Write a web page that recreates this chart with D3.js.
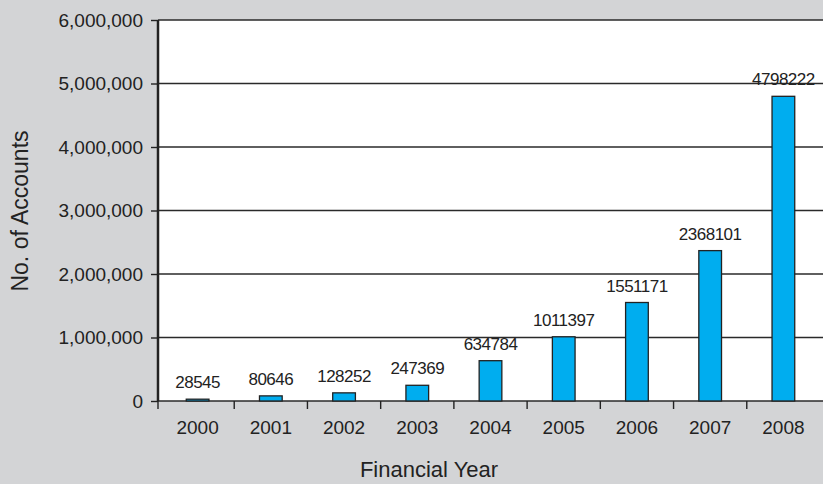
<!DOCTYPE html>
<html>
<head>
<meta charset="utf-8">
<script src="https://cdn.jsdelivr.net/npm/d3@7"></script>
<style>
  body { margin: 0; background: #d3d4d6; }
  svg { display: block; }
  .tick text { font-family: "Liberation Sans", Arial, sans-serif; fill: #222; }
  .value { font-family: "Liberation Sans Narrow", "Liberation Sans", sans-serif; fill: #222; letter-spacing: -0.5px; }
  .title { font-family: "Liberation Sans", Arial, sans-serif; fill: #222; }
</style>
</head>
<body>
<svg id="chart" width="823" height="484"></svg>
<script>
// data
const years = ["2000", "2001", "2002", "2003", "2004", "2005", "2006", "2007", "2008"];
const accounts = [28545, 80646, 128252, 247369, 634784, 1011397, 1551171, 2368101, 4798222];
const yTicks = [0, 1000000, 2000000, 3000000, 4000000, 5000000, 6000000];

const width = 823, height = 484;
const margin = {top: 20, right: 0, bottom: 83, left: 158};

const svg = d3.select("#chart");

const x = d3.scaleBand()
    .domain(years)
    .range([margin.left + 3, width - 3])
    .paddingInner(0.69)
    .paddingOuter(0.345);

const y = d3.scaleLinear()
    .domain([0, 6000000])
    .range([height - margin.bottom, margin.top]);

// plot background
svg.append("rect")
    .attr("x", margin.left).attr("y", y(6000000))
    .attr("width", width - margin.left - margin.right)
    .attr("height", y(0) - y(6000000))
    .attr("fill", "#fff");

// gridlines
svg.append("g").selectAll("line")
    .data(yTicks).enter()
    .append("line")
    .attr("x1", margin.left).attr("x2", width)
    .attr("y1", d => y(d)).attr("y2", d => y(d))
    .attr("stroke", "#2a2a2a").attr("stroke-width", 1.4);

// bars
svg.append("g").selectAll("rect")
    .data(accounts).enter()
    .append("rect")
    .attr("x", (d, i) => x(years[i]))
    .attr("y", d => y(d))
    .attr("width", x.bandwidth())
    .attr("height", d => y(0) - y(d))
    .attr("fill", "#00adef")
    .attr("stroke", "#222")
    .attr("stroke-width", 1.3);

// value labels
svg.append("g").selectAll("text")
    .data(accounts).enter()
    .append("text").attr("class", "value")
    .attr("x", (d, i) => x(years[i]) + x.bandwidth() / 2)
    .attr("y", d => y(d) - 11)
    .attr("text-anchor", "middle")
    .attr("font-size", 17)
    .text(d => d);

// y axis
const yAxis = svg.append("g")
    .attr("transform", `translate(${margin.left},0)`)
    .call(d3.axisLeft(y).tickValues(yTicks).tickSize(7).tickPadding(8).tickFormat(d3.format(",")));
yAxis.select(".domain").attr("stroke", "#222").attr("stroke-width", 2.5)
    .attr("d", `M0,${y(6000000)}V${y(0)}`);
yAxis.selectAll(".tick line").attr("stroke", "#222").attr("stroke-width", 1.4);
yAxis.selectAll(".tick text").attr("font-size", 19);

// x axis: labels at centres, ticks at category boundaries
const xAxis = svg.append("g")
    .attr("transform", `translate(0,${y(0)})`)
    .call(d3.axisBottom(x).tickSize(0).tickPadding(20));
xAxis.select(".domain").remove();
xAxis.selectAll(".tick text").attr("font-size", 19);

const step = x.step();
svg.append("g").selectAll("line")
    .data(years.slice(1)).enter()
    .append("line")
    .attr("x1", d => x(d) + x.bandwidth() / 2 - step / 2)
    .attr("x2", d => x(d) + x.bandwidth() / 2 - step / 2)
    .attr("y1", y(0)).attr("y2", y(0) + 8)
    .attr("stroke", "#222").attr("stroke-width", 1.4);
svg.append("line")
    .attr("x1", margin.left).attr("x2", margin.left)
    .attr("y1", y(0)).attr("y2", y(0) + 8)
    .attr("stroke", "#222").attr("stroke-width", 1.4);

// axis titles
svg.append("text").attr("class", "title")
    .attr("x", 429)
    .attr("y", 477)
    .attr("text-anchor", "middle")
    .attr("font-size", 22)
    .text("Financial Year");

svg.append("text").attr("class", "title")
    .attr("transform", "translate(28,211) rotate(-90)")
    .attr("text-anchor", "middle")
    .attr("font-size", 23)
    .text("No. of Accounts");
</script>
</body>
</html>
